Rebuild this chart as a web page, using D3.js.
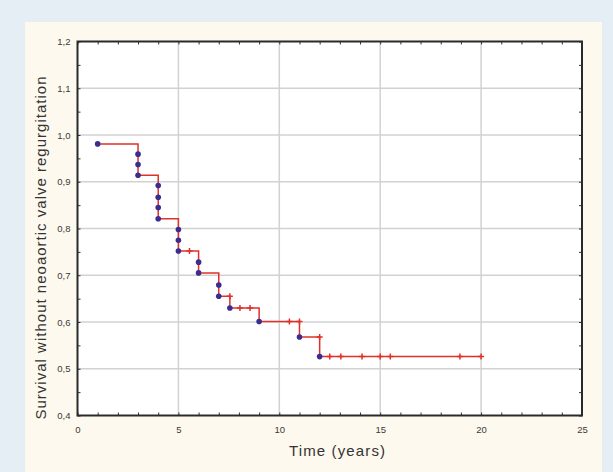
<!DOCTYPE html>
<html>
<head>
<meta charset="utf-8">
<script src="https://cdn.jsdelivr.net/npm/d3@7"></script>
<style>
  body { margin: 0; background: #e5edf5; }
  svg { display: block; }
  .tick text { font-family: "Liberation Sans", Arial, sans-serif; fill: #3a3a3a; }
  .axisTitle { font-family: "Liberation Sans", Arial, sans-serif; fill: #333; }
</style>
</head>
<body>
<div id="chart"></div>
<script>
// step curve (Kaplan-Meier), value holds from this time until the next one
var stepTimes  = [1, 3, 4, 5, 6, 7, 7.55, 9, 11, 12, 20];
var stepValues = [0.981, 0.914, 0.821, 0.752, 0.705, 0.655, 0.630, 0.601, 0.568, 0.526, 0.526];

// complete observations (blue dots)
var eventTimes  = [1, 3, 3, 3, 4, 4, 4, 4, 5, 5, 5, 6, 6, 7, 7, 7.55, 9, 11, 12];
var eventValues = [0.981, 0.959, 0.937, 0.914, 0.892, 0.867, 0.845, 0.821, 0.798, 0.775, 0.752,
                   0.728, 0.705, 0.679, 0.655, 0.630, 0.601, 0.568, 0.526];

// censored observations (red crosses)
var censorTimes  = [5.55, 7.55, 8.05, 8.55, 10.5, 11, 12, 12.5, 13.05, 14.1, 15, 15.5, 18.95, 20];
var censorValues = [0.752, 0.655, 0.630, 0.630, 0.601, 0.601, 0.568, 0.526, 0.526, 0.526, 0.526, 0.526, 0.526, 0.526];

var xTicks = [0, 5, 10, 15, 20, 25];
var yTicks = [0.4, 0.5, 0.6, 0.7, 0.8, 0.9, 1.0, 1.1, 1.2];

var svgWidth = 613;
var svgHeight = 472;

var margin = { top: 41.5, right: 31, bottom: 56.5, left: 77.5 };
var width = svgWidth - margin.left - margin.right;
var height = svgHeight - margin.top - margin.bottom;

var svg = d3.select("#chart")
  .append("svg")
  .attr("width", svgWidth)
  .attr("height", svgHeight);

// cream panel
svg.append("rect")
  .attr("x", 25).attr("y", 22)
  .attr("width", 577).attr("height", 460)
  .attr("fill", "#fdf9ee");

var chartGroup = svg.append("g")
  .attr("transform", `translate(${margin.left}, ${margin.top})`);

chartGroup.append("rect")
  .attr("width", width).attr("height", height)
  .attr("fill", "#ffffff");

var xScale = d3.scaleLinear().domain([0, 25]).range([0, width]);
var yScale = d3.scaleLinear().domain([0.4, 1.2]).range([height, 0]);

// grid
chartGroup.append("g")
  .selectAll("line")
  .data(xTicks.slice(1, -1))
  .enter().append("line")
  .attr("x1", d => xScale(d)).attr("x2", d => xScale(d))
  .attr("y1", 0).attr("y2", height)
  .attr("stroke", "#d2d2d2").attr("stroke-width", 1.5);

chartGroup.append("g")
  .selectAll("line")
  .data(yTicks.slice(1, -1))
  .enter().append("line")
  .attr("x1", 0).attr("x2", width)
  .attr("y1", d => yScale(d)).attr("y2", d => yScale(d))
  .attr("stroke", "#d2d2d2").attr("stroke-width", 1.5);

// minor ticks (inside the frame)
var minorX = d3.range(0, 25.01, 1);
var minorY = d3.range(0.4, 1.2001, 0.05);

function styleTicks(g) {
  g.select(".domain").remove();
  g.selectAll(".tick line").attr("stroke", "#333").attr("stroke-width", 1);
  g.selectAll(".tick text").remove();
}

chartGroup.append("g")
  .attr("transform", `translate(0, ${height})`)
  .call(d3.axisBottom(xScale).tickValues(minorX).tickSize(-3))
  .call(styleTicks);
chartGroup.append("g")
  .call(d3.axisTop(xScale).tickValues(minorX).tickSize(-3))
  .call(styleTicks);
chartGroup.append("g")
  .call(d3.axisLeft(yScale).tickValues(minorY).tickSize(-3))
  .call(styleTicks);
chartGroup.append("g")
  .attr("transform", `translate(${width}, 0)`)
  .call(d3.axisRight(yScale).tickValues(minorY).tickSize(-3))
  .call(styleTicks);

// major tick labels
var bottomAxis = d3.axisBottom(xScale).tickValues(xTicks).tickSize(0).tickPadding(11);
var leftAxis = d3.axisLeft(yScale).tickValues(yTicks).tickSize(0).tickPadding(7)
  .tickFormat(d => d3.format(".1f")(d).replace(".", ","));

chartGroup.append("g")
  .attr("transform", `translate(0, ${height})`)
  .call(bottomAxis)
  .call(g => g.select(".domain").remove())
  .selectAll("text").attr("font-size", 9.5);

chartGroup.append("g")
  .call(leftAxis)
  .call(g => g.select(".domain").remove())
  .selectAll("text").attr("font-size", 9.5);

// frame
chartGroup.append("rect")
  .attr("width", width).attr("height", height)
  .attr("fill", "none")
  .attr("stroke", "#2a2a2a").attr("stroke-width", 2);

// step line
var stepData = stepTimes.map((t, i) => ({ t: t, v: stepValues[i] }));
var line = d3.line()
  .x(d => xScale(d.t))
  .y(d => yScale(d.v))
  .curve(d3.curveStepAfter);

chartGroup.append("path")
  .datum(stepData)
  .attr("d", line)
  .attr("fill", "none")
  .attr("stroke", "#e0302a")
  .attr("stroke-width", 1.5);

// censored crosses
var censorData = censorTimes.map((t, i) => ({ t: t, v: censorValues[i] }));
chartGroup.selectAll(".censor")
  .data(censorData)
  .enter().append("path")
  .attr("class", "censor")
  .attr("d", d => {
    var cx = xScale(d.t), cy = yScale(d.v);
    return `M${cx - 3},${cy}H${cx + 3}M${cx},${cy - 3}V${cy + 3}`;
  })
  .attr("stroke", "#e0302a")
  .attr("stroke-width", 1.5);

// events
var eventData = eventTimes.map((t, i) => ({ t: t, v: eventValues[i] }));
chartGroup.selectAll(".event")
  .data(eventData)
  .enter().append("circle")
  .attr("class", "event")
  .attr("cx", d => xScale(d.t))
  .attr("cy", d => yScale(d.v))
  .attr("r", 2.8)
  .attr("fill", "#3b2c8f");

// axis titles
svg.append("text")
  .attr("class", "axisTitle")
  .attr("x", 337).attr("y", 456)
  .attr("text-anchor", "middle")
  .attr("font-size", 15)
  .attr("textLength", 96)
  .attr("lengthAdjust", "spacing")
  .text("Time (years)");

svg.append("text")
  .attr("class", "axisTitle")
  .attr("transform", "translate(46, 248) rotate(-90)")
  .attr("text-anchor", "middle")
  .attr("font-size", 15)
  .attr("textLength", 343)
  .attr("lengthAdjust", "spacing")
  .text("Survival without neoaortic valve regurgitation");
</script>
</body>
</html>
